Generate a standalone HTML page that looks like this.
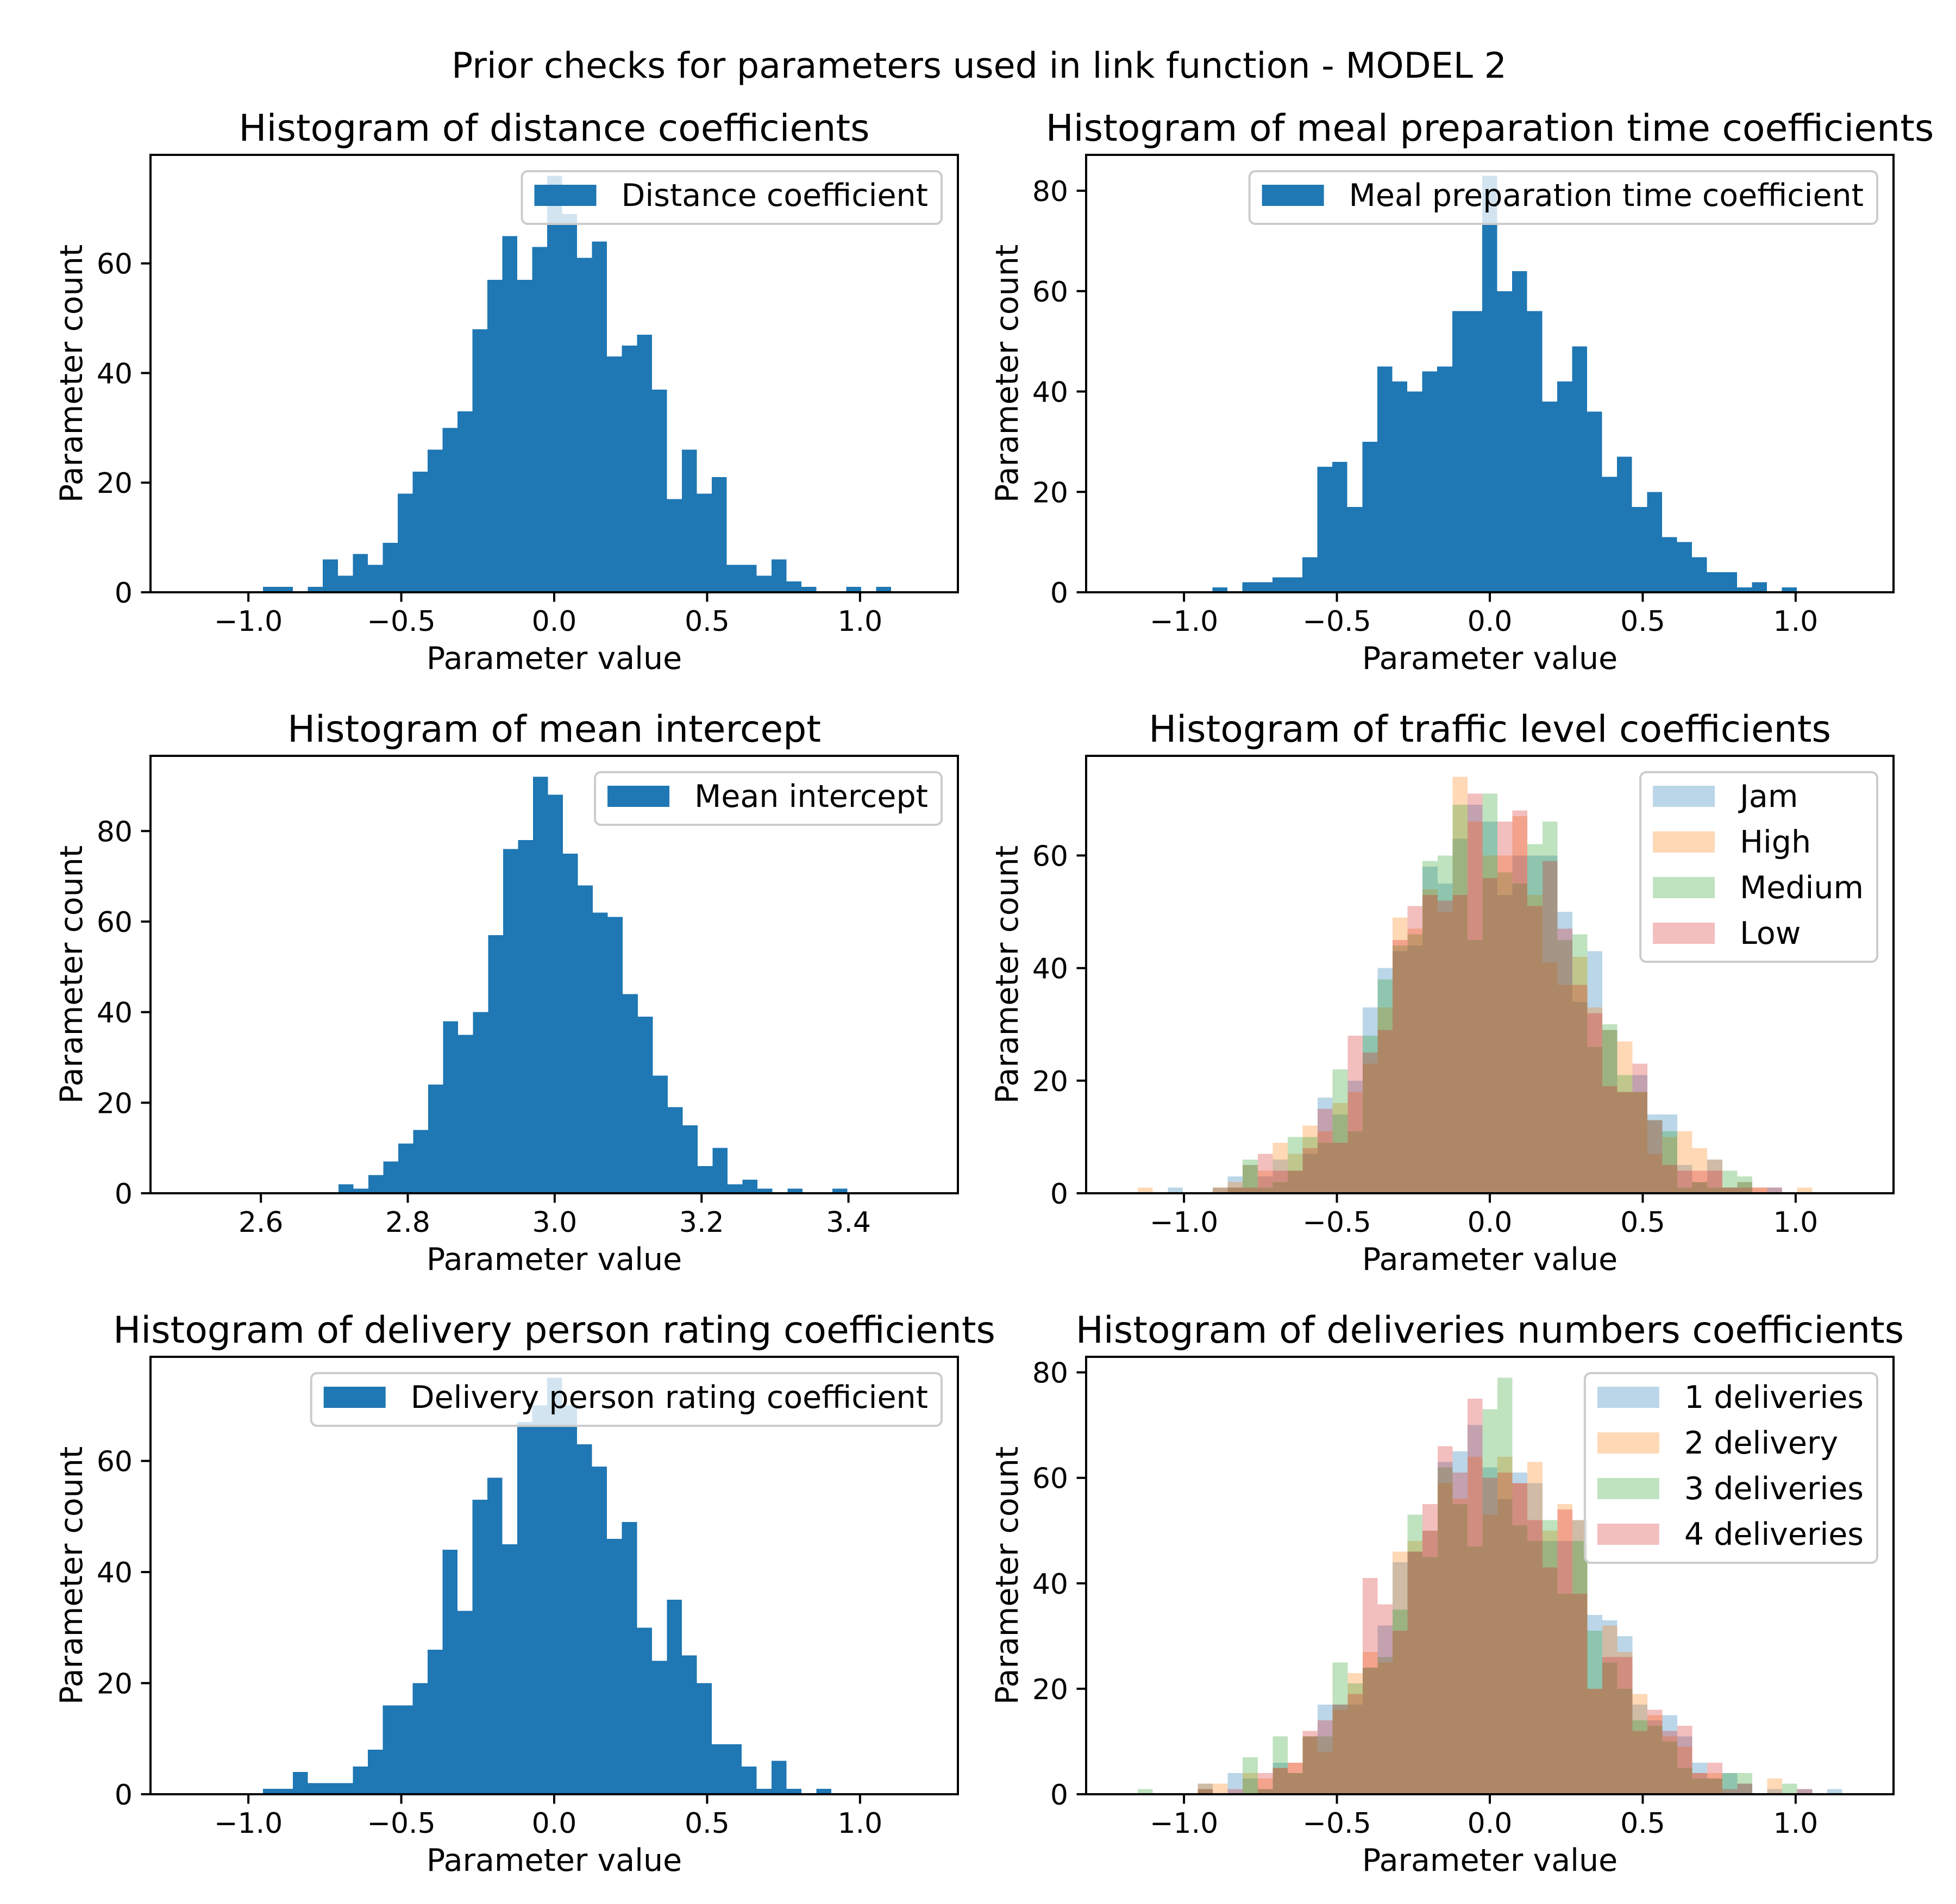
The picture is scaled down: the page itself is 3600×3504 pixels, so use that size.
<!DOCTYPE html>
<html><head><meta charset="utf-8"><title>Prior checks</title>
<style>
html,body{margin:0;padding:0;background:#fff;}
svg{display:block;}
text{font-family:"DejaVu Sans","Liberation Sans",sans-serif;fill:#000;}
</style></head>
<body>
<svg id="fig" xmlns="http://www.w3.org/2000/svg" width="3600" height="3504" viewBox="0 0 3600 3504">
<rect x="0" y="0" width="3600" height="3504" fill="#fff"/>
<text x="1802" y="143" font-size="65" text-anchor="middle">Prior checks for parameters used in link function - MODEL 2</text>
</svg>
<script>
// ---------- data ----------
const distCounts = [1,1,0,1,6,3,7,5,9,18,22,26,30,33,48,57,65,57,63,76,69,61,64,43,45,47,37,17,26,18,21,5,5,3,6,2,1,0,0,1,0,1];
const distBinStart = -0.952;
const distBinWidth = 0.0489;

const mealCounts = [1,0,2,2,3,3,7,25,26,17,30,45,42,40,44,45,56,56,83,60,64,56,38,42,49,36,23,27,17,20,11,10,7,4,4,1,2,0,1];
const mealBinStart = -0.907;
const mealBinWidth = 0.049;

const interceptCounts = [2,1,4,7,11,14,24,38,35,40,57,76,78,92,88,75,68,62,61,44,39,26,19,15,6,10,2,3,1,0,1,0,0,1];
const interceptBinStart = 2.7055;
const interceptBinWidth = 0.02038;

const ratingCounts = [1,1,4,2,2,2,5,8,16,16,20,26,44,33,53,57,45,67,70,75,70,63,59,46,49,30,24,35,25,20,9,9,5,1,6,1,0,1];
const ratingBinStart = -0.952;
const ratingBinWidth = 0.0489;

const trafficLabels = ["Jam","High","Medium","Low"];
const trafficJam    = [0,0,1,0,0,0,3,5,3,6,4,7,17,14,20,33,40,43,44,58,55,63,69,66,53,60,60,60,50,34,43,29,18,21,14,14,5,2,6,1,2,0,1,0,0];
const trafficHigh   = [1,0,0,0,0,0,2,5,4,9,7,12,11,16,18,23,33,49,47,54,50,74,66,60,60,67,53,41,37,42,33,29,27,18,7,10,11,8,6,1,2,1,0,0,1];
const trafficMedium = [0,0,0,0,0,1,1,6,1,2,10,10,9,22,11,28,38,44,46,59,60,69,45,71,57,55,62,66,45,46,26,30,21,18,13,11,1,2,1,4,3,0,0,0,0];
const trafficLow    = [0,0,0,0,0,1,1,1,7,4,4,8,15,9,28,25,29,45,51,53,52,53,71,56,66,68,51,59,47,37,32,19,18,23,13,5,4,4,4,1,1,1,1,0,0];
const trafficBinStart = -1.151;
const trafficBinWidth = 0.049;

const deliveryLabels = ["1 deliveries","2 delivery","3 deliveries","4 deliveries"];
const delivery1 = [0,0,0,0,2,0,4,3,1,6,4,11,17,17,17,24,32,44,46,50,63,65,70,62,56,61,59,48,48,52,34,33,30,17,14,15,11,6,3,4,2,0,1,0,1,0,1];
const delivery2 = [0,0,0,0,2,2,0,4,3,5,6,11,8,16,23,27,25,46,48,50,59,56,64,53,64,59,63,50,55,52,20,32,27,19,15,11,9,4,4,0,0,0,3,0,0,0,0];
const delivery3 = [1,0,0,0,1,0,0,7,1,11,4,11,11,25,21,24,26,35,53,45,62,55,47,73,79,51,48,52,38,48,31,25,20,14,13,10,5,3,3,4,4,0,0,2,0,0,0];
const delivery4 = [0,0,0,0,1,0,1,0,4,5,6,12,14,17,19,41,36,31,46,55,66,61,75,60,61,59,52,43,54,38,20,26,26,12,16,12,13,4,6,1,2,0,0,0,1,0,0];
const deliveryBinStart = -1.151;
const deliveryBinWidth = 0.049;

const coefTicks = [-1.0,-0.5,0.0,0.5,1.0];
const coefTickLabels = ["\u22121.0","\u22120.5","0.0","0.5","1.0"];
const interceptTicks = [2.6,2.8,3.0,3.2,3.4];
const interceptTickLabels = ["2.6","2.8","3.0","3.2","3.4"];
const countTicks60 = [0,20,40,60];
const countTicks80 = [0,20,40,60,80];

// ---------- drawing ----------
const NS = "http://www.w3.org/2000/svg";
const svg = document.getElementById("fig");
const BLUE = "#1f77b4";
const TAB = ["#1f77b4","#ff7f0e","#2ca02c","#d62728"];

function mk(tag, parent) {
  const e = document.createElementNS(NS, tag);
  (parent || svg).appendChild(e);
  return e;
}
function set(e, attrs) { for (const k in attrs) e.setAttribute(k, attrs[k]); return e; }

function drawPanel(cfg) {
  const g = mk("g");
  
  
  const L = cfg.x, T = cfg.y, W = 1486, H = 805, R = L + W, B = T + H;
  let maxC = 0;
  cfg.series.forEach(s => s.counts.forEach(c => { if (c > maxC) maxC = c; }));
  const yMax = maxC * 1.05;
  const sx = v => L + (v - cfg.xlim[0]) / (cfg.xlim[1] - cfg.xlim[0]) * W;
  const sy = c => B - c / yMax * H;

  cfg.series.forEach((s, si) => {
    const sg = mk("g", g);
    
    
    s.counts.forEach((c, i) => {
      if (c <= 0) return;
      const x0 = sx(cfg.binStart + i * cfg.binWidth);
      const x1 = sx(cfg.binStart + (i + 1) * cfg.binWidth);
      const r = mk("rect", sg);
      set(r, {x: x0.toFixed(2), y: sy(c).toFixed(2), width: (x1 - x0).toFixed(2), height: (B - sy(c)).toFixed(2), fill: s.color, "fill-opacity": s.alpha, "shape-rendering": "crispEdges"});
      
      
    });
  });

  cfg.xticks.forEach((v, i) => {
    const x = sx(v);
    const t = mk("line", g);
    set(t, {x1: x, x2: x, y1: B, y2: B + 17.5, stroke: "#000", "stroke-width": 4});
    
    
    const tx = mk("text", g);
    set(tx, {x: x, y: B + 71, "font-size": 52, "text-anchor": "middle"});
    tx.textContent = cfg.xtickLabels[i];
    
    
  });
  cfg.yticks.forEach(v => {
    const y = sy(v);
    const t = mk("line", g);
    set(t, {x1: L - 17.5, x2: L, y1: y, y2: y, stroke: "#000", "stroke-width": 4});
    
    
    const tx = mk("text", g);
    set(tx, {x: L - 33, y: y + 19, "font-size": 52, "text-anchor": "end"});
    tx.textContent = String(v);
    
    
  });
  const fr = mk("rect", g);
  set(fr, {x: L, y: T, width: W, height: H, fill: "none", stroke: "#000", "stroke-width": 4});
  
  

  const ti = mk("text", g);
  set(ti, {x: L + W / 2, y: T - 26, "font-size": 68, "text-anchor": "middle"});
  ti.textContent = cfg.title;
  
  
  const xl = mk("text", g);
  set(xl, {x: L + W / 2, y: B + 141, "font-size": 57, "text-anchor": "middle"});
  xl.textContent = "Parameter value";
  
  
  const yl = mk("text", g);
  const yx = L - 126, yy = T + H / 2;
  set(yl, {x: yx, y: yy, "font-size": 57, "text-anchor": "middle", transform: "rotate(-90 " + yx + " " + yy + ")"});
  yl.textContent = "Parameter count";
  
  

  const lg = mk("g", g);
  
  
  const box = mk("rect", lg);
  
  
  const texts = [];
  let maxW = 0;
  cfg.series.forEach((s, i) => {
    const tx = mk("text", lg);
    set(tx, {"font-size": 57});
    tx.textContent = s.label;
    
    
    texts.push(tx);
    const w = tx.getComputedTextLength();
    if (w > maxW) maxW = w;
  });
  const n = cfg.series.length;
  const bw = 23 + 114 + 46 + maxW + 25;
  const bh = 97 + (n - 1) * 84;
  const bx = R - 30 - bw, by = T + 30;
  set(box, {x: bx, y: by, width: bw, height: bh, rx: 11, ry: 11, fill: "#fff", "fill-opacity": 0.8, stroke: "#cccccc", "stroke-width": 4});
  cfg.series.forEach((s, i) => {
    const p = mk("rect", lg);
    set(p, {x: bx + 23, y: by + 25 + i * 84, width: 114, height: 39, fill: s.color, "fill-opacity": s.alpha});
    
    
    lg.appendChild(texts[i]);
    set(texts[i], {x: bx + 23 + 114 + 46, y: by + 64 + i * 84});
  });
}

const rowT = [285, 1391, 2497];
const colL = [277, 1999];
const coefX = [-1.32, 1.32];

drawPanel({name: "panel-distance", x: colL[0], y: rowT[0], xlim: coefX, xticks: coefTicks, xtickLabels: coefTickLabels, yticks: countTicks60,
  title: "Histogram of distance coefficients", binStart: distBinStart, binWidth: distBinWidth,
  series: [{key: "distance", label: "Distance coefficient", counts: distCounts, color: BLUE, alpha: 1}]});
drawPanel({name: "panel-meal-prep", x: colL[1], y: rowT[0], xlim: coefX, xticks: coefTicks, xtickLabels: coefTickLabels, yticks: countTicks80,
  title: "Histogram of meal preparation time coefficients", binStart: mealBinStart, binWidth: mealBinWidth,
  series: [{key: "meal", label: "Meal preparation time coefficient", counts: mealCounts, color: BLUE, alpha: 1}]});
drawPanel({name: "panel-mean-intercept", x: colL[0], y: rowT[1], xlim: [2.4497, 3.549], xticks: interceptTicks, xtickLabels: interceptTickLabels, yticks: countTicks80,
  title: "Histogram of mean intercept", binStart: interceptBinStart, binWidth: interceptBinWidth,
  series: [{key: "intercept", label: "Mean intercept", counts: interceptCounts, color: BLUE, alpha: 1}]});
drawPanel({name: "panel-traffic", x: colL[1], y: rowT[1], xlim: coefX, xticks: coefTicks, xtickLabels: coefTickLabels, yticks: countTicks60,
  title: "Histogram of traffic level coefficients", binStart: trafficBinStart, binWidth: trafficBinWidth,
  series: [
    {key: "jam", label: trafficLabels[0], counts: trafficJam, color: TAB[0], alpha: 0.3},
    {key: "high", label: trafficLabels[1], counts: trafficHigh, color: TAB[1], alpha: 0.3},
    {key: "medium", label: trafficLabels[2], counts: trafficMedium, color: TAB[2], alpha: 0.3},
    {key: "low", label: trafficLabels[3], counts: trafficLow, color: TAB[3], alpha: 0.3}]});
drawPanel({name: "panel-rating", x: colL[0], y: rowT[2], xlim: coefX, xticks: coefTicks, xtickLabels: coefTickLabels, yticks: countTicks60,
  title: "Histogram of delivery person rating coefficients", binStart: ratingBinStart, binWidth: ratingBinWidth,
  series: [{key: "rating", label: "Delivery person rating coefficient", counts: ratingCounts, color: BLUE, alpha: 1}]});
drawPanel({name: "panel-deliveries", x: colL[1], y: rowT[2], xlim: coefX, xticks: coefTicks, xtickLabels: coefTickLabels, yticks: countTicks80,
  title: "Histogram of deliveries numbers coefficients", binStart: deliveryBinStart, binWidth: deliveryBinWidth,
  series: [
    {key: "d1", label: deliveryLabels[0], counts: delivery1, color: TAB[0], alpha: 0.3},
    {key: "d2", label: deliveryLabels[1], counts: delivery2, color: TAB[1], alpha: 0.3},
    {key: "d3", label: deliveryLabels[2], counts: delivery3, color: TAB[2], alpha: 0.3},
    {key: "d4", label: deliveryLabels[3], counts: delivery4, color: TAB[3], alpha: 0.3}]});
</script>
</body></html>
